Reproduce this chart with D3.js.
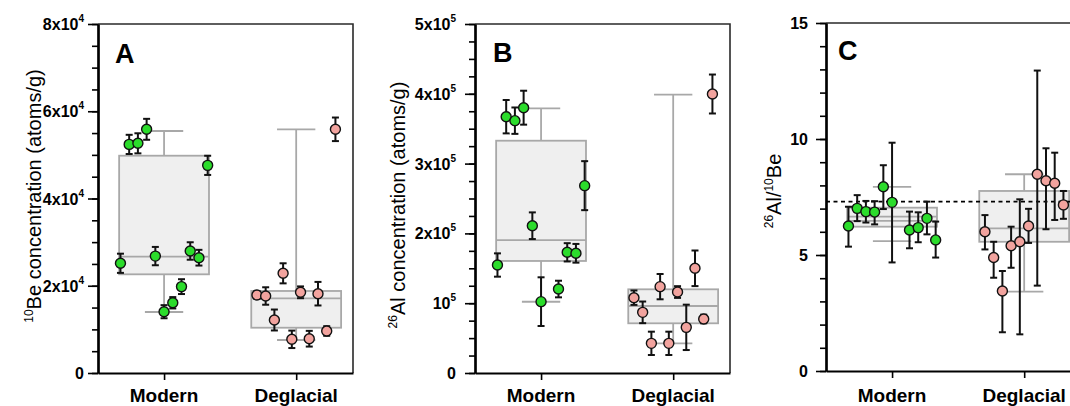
<!DOCTYPE html>
<html>
<head>
<meta charset="utf-8">
<title>10Be and 26Al concentrations</title>
<script src="https://d3js.org/d3.v7.min.js"></script>
<style>
  body { margin: 0; background: #fff; }
  svg text { font-family: "Liberation Sans", Arial, sans-serif; fill: #000; }
</style>
</head>
<body>
<div id="vis"></div>
<script>
// ---- data ----
const categories = ["Modern", "Deglacial"];

// A: 10Be concentration (atoms/g)
const beModern = [25150, 52400, 52650, 55860, 26800, 14050, 16100, 19800, 27970, 26430, 47600];
const beModernErr = [2200, 2200, 2300, 2400, 2100, 1500, 1300, 1700, 2000, 1800, 2200];
const beDeglacial = [17880, 17650, 12150, 22850, 7720, 18500, 7860, 18180, 9630, 55860];
const beDeglacialErr = [900, 2000, 2400, 2300, 2000, 1350, 1800, 2700, 1100, 2700];
const beBoxes = [[13980, 22620, 26660, 49810, 55470], [7560, 10380, 17120, 18800, 55860]];
const beTicks = [0, 20000, 40000, 60000, 80000];
const beTickLabels = ["0", "2x10^4", "4x10^4", "6x10^4", "8x10^4"];

// B: 26Al concentration (atoms/g)
const alModern = [154700, 367200, 361500, 380100, 211000, 102200, null, 120300, 172900, 171500, 268400];
const alModernErr = [16700, 23900, 18900, 24300, 19100, 34900, null, 11900, 13100, 13400, 35100];
const alDeglacial = [107900, 86900, 42500, 123700, 42500, 116000, 65400, 150000, 77400, 399700];
const alDeglacialErr = [10300, 15500, 16700, 18100, 16700, 8400, 32500, 25500, 6200, 27900];
const alBoxes = [[102100, 160500, 190500, 332800, 379200], [42500, 71200, 96000, 119900, 398700]];
const alTicks = [0, 100000, 200000, 300000, 400000, 500000];
const alTickLabels = ["0", "10^5", "2x10^5", "3x10^5", "4x10^5", "5x10^5"];

// C: 26Al/10Be ratio
const ratioModern = [6.25, 7.01, 6.87, 6.85, 7.94, 7.27, null, 6.08, 6.18, 6.58, 5.65];
const ratioModernUp = [0.83, 0.57, 0.46, 0.47, 0.93, 2.57, null, 0.79, 0.66, 0.72, 0.79];
const ratioModernDown = [0.89, 0.55, 0.47, 0.53, 0.96, 2.59, null, 0.79, 0.63, 0.69, 0.76];
const ratioDeglacial = [6.00, 4.89, 3.45, 5.40, 5.57, 6.25, 8.48, 8.20, 8.09, 7.16];
const ratioDeglacialUp = [0.72, 0.68, 0.86, 0.82, 1.83, 0.74, 4.47, 1.40, 1.32, 0.60];
const ratioDeglacialDown = [0.76, 0.87, 1.78, 0.95, 3.99, 0.73, 4.80, 2.09, 1.58, 0.60];
const ratioBoxes = [[5.6, 6.22, 6.65, 7.04, 7.94], [3.42, 5.57, 6.15, 7.76, 8.48]];
const ratioExtraLines = [6.47, null];
const ratioReference = 7.3;
const ratioTicks = [0, 5, 10, 15];
const ratioTickLabels = ["0", "5", "10", "15"];

// ---- layout ----
const width = 1070, height = 406;
const panelWidth = 255;
const slot = 0.066, boxHalf = 0.34, capHalf = 0.145;
const colors = ["#2bdc2b", "#f2a39e"];

const svg = d3.select('#vis').append('svg')
  .attr('width', width)
  .attr('height', height);

const x = d3.scaleLinear().domain([0.5, 2.43]).range([0, panelWidth]);

function addSup(sel, label, baseSize, supSize, rise) {
  const parts = label.split('^');
  sel.append('tspan').attr('font-size', baseSize).attr('font-weight', 'bold').text(parts[0]);
  if (parts[1]) sel.append('tspan').attr('font-size', supSize).attr('font-weight', 'bold')
    .attr('dy', -rise).text(parts[1]);
}

function drawPanel(cfg) {
  const g = svg.append('g').attr('transform', `translate(${cfg.left},0)`);
  const y = d3.scaleLinear().domain([0, cfg.max]).range([cfg.bottom, cfg.top]);

  // box plots
  cfg.boxes.forEach((b, i) => {
    const c = i + 1;
    const [lo, q1, med, q3, hi] = b;
    const wl = g.append('g').attr('stroke', '#a8a8a8').attr('stroke-width', 1.8);
    wl.append('line').attr('x1', x(c)).attr('x2', x(c)).attr('y1', y(hi)).attr('y2', y(q3));
    wl.append('line').attr('x1', x(c)).attr('x2', x(c)).attr('y1', y(q1)).attr('y2', y(lo));
    wl.append('line').attr('x1', x(c - capHalf)).attr('x2', x(c + capHalf)).attr('y1', y(hi)).attr('y2', y(hi));
    wl.append('line').attr('x1', x(c - capHalf)).attr('x2', x(c + capHalf)).attr('y1', y(lo)).attr('y2', y(lo));
    g.append('rect')
      .attr('x', x(c - boxHalf)).attr('width', x(c + boxHalf) - x(c - boxHalf))
      .attr('y', y(q3)).attr('height', y(q1) - y(q3))
      .attr('fill', '#efefef').attr('stroke', '#a8a8a8').attr('stroke-width', 1.8);
    const lines = [med];
    if (cfg.extra && cfg.extra[i] != null) lines.push(cfg.extra[i]);
    lines.forEach(v => {
      g.append('line')
        .attr('x1', x(c - boxHalf)).attr('x2', x(c + boxHalf))
        .attr('y1', y(v)).attr('y2', y(v))
        .attr('stroke', '#a8a8a8').attr('stroke-width', 1.8);
    });
  });

  if (cfg.reference != null) {
    g.append('line')
      .attr('x1', 0).attr('x2', panelWidth + 20)
      .attr('y1', y(cfg.reference)).attr('y2', y(cfg.reference))
      .attr('stroke', '#000').attr('stroke-width', 1.7)
      .attr('stroke-dasharray', '4,3.5');
  }

  // points with error bars
  cfg.series.forEach((s, ci) => {
    const n = s.values.length;
    const pts = s.values.map((v, i) => ({
      v: v,
      up: s.up[i],
      down: s.down[i],
      px: x(ci + 1 + (i - (n - 1) / 2) * slot)
    })).filter(d => d.v != null);

    const eb = g.append('g').attr('stroke', '#111').attr('stroke-width', 2);
    eb.selectAll('line.v').data(pts).enter().append('line')
      .attr('x1', d => d.px).attr('x2', d => d.px)
      .attr('y1', d => y(d.v + d.up)).attr('y2', d => y(d.v - d.down));
    eb.selectAll('line.t').data(pts).enter().append('line')
      .attr('x1', d => d.px - 3.5).attr('x2', d => d.px + 3.5)
      .attr('y1', d => y(d.v + d.up)).attr('y2', d => y(d.v + d.up));
    eb.selectAll('line.b').data(pts).enter().append('line')
      .attr('x1', d => d.px - 3.5).attr('x2', d => d.px + 3.5)
      .attr('y1', d => y(d.v - d.down)).attr('y2', d => y(d.v - d.down));

    g.append('g').selectAll('circle').data(pts).enter().append('circle')
      .attr('cx', d => d.px).attr('cy', d => y(d.v))
      .attr('r', 5)
      .attr('fill', colors[ci])
      .attr('stroke', '#111').attr('stroke-width', 1.4);
  });

  // frame (top, right)
  g.append('path')
    .attr('d', `M0,${cfg.top}H${panelWidth}V${cfg.bottom}`)
    .attr('fill', 'none').attr('stroke', '#2a2a2a').attr('stroke-width', 1.6);

  // y axis
  const minor = d3.range(0, cfg.max + cfg.minorStep / 2, cfg.minorStep);
  const yMinor = g.append('g')
    .call(d3.axisLeft(y).tickValues(minor).tickSize(6).tickFormat('').tickSizeOuter(0));
  const yMajor = g.append('g')
    .call(d3.axisLeft(y).tickValues(cfg.ticks).tickSize(10).tickFormat('').tickSizeOuter(0));
  [yMinor, yMajor].forEach(a => {
    a.select('.domain').attr('stroke', '#000').attr('stroke-width', 2.2);
    a.selectAll('.tick line').attr('stroke', '#000').attr('stroke-width', 1.6);
  });

  cfg.ticks.forEach((v, i) => {
    const t = g.append('text')
      .attr('x', -cfg.labelGap).attr('y', y(v) + 6)
      .attr('text-anchor', 'end')
      .attr('font-weight', 'bold');
    addSup(t, cfg.tickLabels[i], 16, 10, 8);
  });

  // x axis
  const xa = g.append('g')
    .attr('transform', `translate(0,${cfg.bottom})`)
    .call(d3.axisBottom(x).tickValues([1, 2]).tickSize(7).tickFormat('').tickSizeOuter(0));
  xa.select('.domain').attr('stroke', '#000').attr('stroke-width', 2.2);
  xa.selectAll('.tick line').attr('stroke', '#000').attr('stroke-width', 1.6);

  categories.forEach((c, i) => {
    g.append('text')
      .attr('x', x(i + 1)).attr('y', 402)
      .attr('text-anchor', 'middle')
      .attr('font-weight', 'bold').attr('font-size', 19)
      .text(c);
  });

  // axis title
  const title = g.append('text')
    .attr('transform', `translate(${cfg.titleX},${cfg.titleY}) rotate(-90)`)
    .attr('text-anchor', 'middle')
    .attr('font-size', 20);
  cfg.title.forEach(p => {
    title.append('tspan')
      .attr('font-size', p.sup ? 12 : 20)
      .attr('dy', p.dy || 0)
      .text(p.t);
  });

  // panel letter
  g.append('text')
    .attr('x', cfg.letterX).attr('y', cfg.letterY)
    .attr('font-weight', 'bold').attr('font-size', 27)
    .text(cfg.letter);
}

drawPanel({
  left: 98, top: 24, bottom: 373, max: 80000, minorStep: 5000,
  ticks: beTicks, tickLabels: beTickLabels, labelGap: 14,
  boxes: beBoxes,
  series: [
    { values: beModern, up: beModernErr, down: beModernErr },
    { values: beDeglacial, up: beDeglacialErr, down: beDeglacialErr }
  ],
  title: [{ t: '10', sup: true, dy: -8 }, { t: 'Be concentration (atoms/g)', dy: 8 }],
  titleX: -57, titleY: 196,
  letter: 'A', letterX: 17, letterY: 63
});

drawPanel({
  left: 475, top: 24, bottom: 373, max: 500000, minorStep: 25000,
  ticks: alTicks, tickLabels: alTickLabels, labelGap: 19,
  boxes: alBoxes,
  series: [
    { values: alModern, up: alModernErr, down: alModernErr },
    { values: alDeglacial, up: alDeglacialErr, down: alDeglacialErr }
  ],
  title: [{ t: '26', sup: true, dy: -8 }, { t: 'Al concentration (atoms/g)', dy: 8 }],
  titleX: -70, titleY: 205,
  letter: 'B', letterX: 18, letterY: 62
});

drawPanel({
  left: 826, top: 23, bottom: 371, max: 15, minorStep: 1,
  ticks: ratioTicks, tickLabels: ratioTickLabels, labelGap: 18,
  boxes: ratioBoxes, extra: ratioExtraLines, reference: ratioReference,
  series: [
    { values: ratioModern, up: ratioModernUp, down: ratioModernDown },
    { values: ratioDeglacial, up: ratioDeglacialUp, down: ratioDeglacialDown }
  ],
  title: [{ t: '26', sup: true, dy: -8 }, { t: 'Al/', dy: 8 }, { t: '10', sup: true, dy: -8 }, { t: 'Be', dy: 8 }],
  titleX: -45, titleY: 191,
  letter: 'C', letterX: 12, letterY: 60
});
</script>
</body>
</html>
